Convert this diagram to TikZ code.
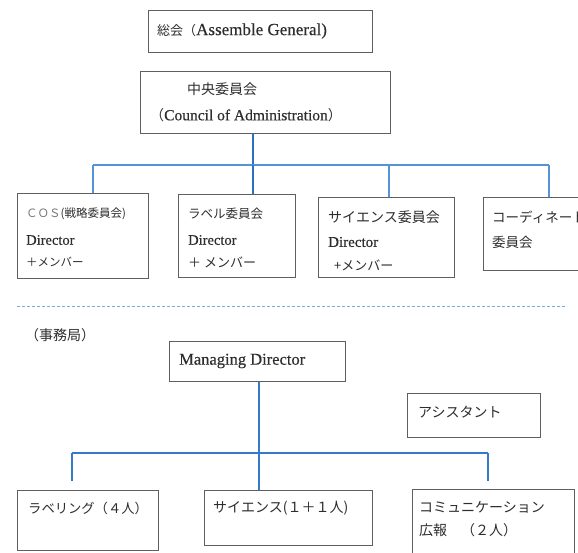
\documentclass[tikz,border=0pt]{standalone}
\usepackage{fontspec}
\setmainfont{Liberation Serif}[FakeBold=0.35]
\newfontfamily\jp{Noto Sans CJK JP}
\definecolor{boxgray}{RGB}{95,95,95}
\definecolor{txtgray}{RGB}{45,45,45}
\definecolor{lightgray2}{RGB}{120,120,120}
\definecolor{topblue}{RGB}{84,148,212}
\definecolor{midblue}{RGB}{45,112,190}
\definecolor{botblue}{RGB}{52,122,198}
\definecolor{sepblue}{RGB}{120,172,225}
\newcommand\fz[1]{\fontsize{#1}{#1}\selectfont}
\begin{document}
\begin{tikzpicture}[x=1pt,y=-1pt,
  box/.style={draw=boxgray, line width=1.1pt, fill=white, anchor=north west, inner sep=0pt},
  txt/.style={anchor=west, inner sep=0pt, text=txtgray},
  topline/.style={draw=topblue, line width=1.8pt},
  midline/.style={draw=midblue, line width=1.8pt},
  botline/.style={draw=botblue, line width=2.2pt},
  sepline/.style={draw=sepblue, line width=0.9pt, dash pattern=on 3pt off 2pt}]
\clip (0,0) rectangle (578,553);
\fill[white] (0,0) rectangle (578,553);

% top boxes
\node[box, minimum width=224pt, minimum height=42pt] (gen) at (148,10) {};
\node[txt] (gent) at (157,31) {{\fz{13}\jp 総会（}{\fz{17}Assemble General)}};
\node[box, minimum width=250pt, minimum height=62pt] (cent) at (140,71) {};
\node[txt] (centa) at (187,89) {\fz{14}\jp 中央委員会};
\node[txt] (centb) at (150,115) {{\fz{14}\jp （}{\fz{15.5}Council of Administration}{\fz{14}\jp ）}};

% committees
\node[box, minimum width=131pt, minimum height=85pt] (cos) at (17,193) {};
\node[txt] (cosa) at (26,214) {\fz{11.5}\jp {\color{lightgray2}ＣＯＳ}(戦略委員会)};
\node[txt] (cosb) at (26,240) {\fz{14.5}Director};
\node[txt] (cosc) at (26,262) {\fz{11.5}\jp ＋メンバー};

\node[box, minimum width=117pt, minimum height=83pt] (lab) at (178,194) {};
\node[txt] (laba) at (188,214) {\fz{12.5}\jp ラベル委員会};
\node[txt] (labb) at (188,240) {\fz{14.5}Director};
\node[txt] (labc) at (188,262) {\fz{13}\jp ＋ メンバー};

\node[box, minimum width=136pt, minimum height=80pt] (sci) at (318,197) {};
\node[txt] (scia) at (328,217) {\fz{14}\jp サイエンス委員会};
\node[txt] (scib) at (328,242) {\fz{15}Director};
\node[txt] (scic) at (334,265) {\fz{13}\jp +メンバー};

\node[box, minimum width=130pt, minimum height=73pt] (crd) at (483,197) {};
\node[txt] (crda) at (492,217) {\fz{13.5}\jp コーディネート};
\node[txt] (crdb) at (492,242) {\fz{13.5}\jp 委員会};

% top connectors
\coordinate (topj) at (253,165);
\coordinate (tl) at (93,165);
\coordinate (t3) at (389,165);
\coordinate (tr) at (549,165);
\draw[midline] (topj |- cent.south) -- (topj);
\draw[topline] (tl) -- (tr);
\draw[topline] (tl) -- (tl |- cos.north);
\draw[midline] (topj) -- (topj |- lab.north);
\draw[topline] (t3) -- (t3 |- sci.north);
\draw[topline] (tr) -- (tr |- crd.north);

% separator
\coordinate (sl) at (17,306);
\coordinate (sr) at (567,306);
\draw[sepline] (sl) -- (sr);

% secretariat
\node[txt] (jim) at (25,335) {\fz{14}\jp （事務局）};
\node[box, minimum width=176pt, minimum height=40pt] (md) at (169,341) {};
\node[txt] (mdt) at (179,361) {\fz{16.5}Managing Director};
\node[box, minimum width=133pt, minimum height=44pt] (ast) at (407,393) {};
\node[txt] (astt) at (418,412) {\fz{14}\jp アシスタント};

\node[box, minimum width=141pt, minimum height=60pt] (lab2) at (17,490) {};
\node[txt] (lab2t) at (28,508) {\fz{13.3}\jp ラベリング（４人）};
\node[box, minimum width=168pt, minimum height=55pt] (sci2) at (204,490) {};
\node[txt] (sci2t) at (213,508) {\fz{14}\jp サイエンス(１＋１人)};
\node[box, minimum width=162pt, minimum height=80pt] (com) at (412,489) {};
\node[txt] (coma) at (419,507) {\fz{14}\jp コミュニケーション};
\node[txt] (comb) at (419,530) {\fz{14}\jp 広報　（２人）};

% bottom connectors
\coordinate (bj) at (259,453);
\coordinate (bl) at (72,453);
\coordinate (br) at (488,453);
\coordinate (ble) at (72,481);
\coordinate (bre) at (488,481);
\draw[botline] (bj |- md.south) -- (bj |- sci2.north);
\draw[botline] (bl) -- (br);
\draw[botline] (bl) -- (ble);
\draw[botline] (br) -- (bre);
\end{tikzpicture}
\end{document}
